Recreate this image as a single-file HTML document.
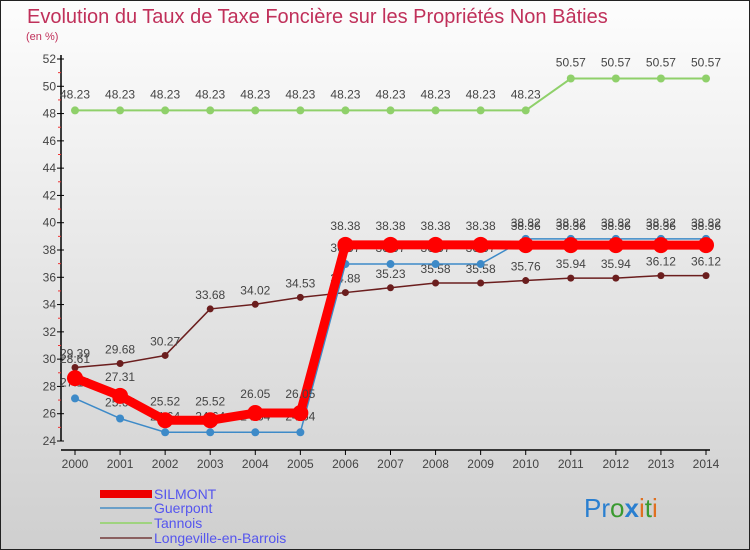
<!DOCTYPE html>
<html><head><meta charset="utf-8"><style>
body{margin:0}
#c{position:relative;width:750px;height:550px;overflow:hidden;font-family:"Liberation Sans",sans-serif}
</style></head><body>
<div id="c">
<svg id="s" width="750" height="550" xmlns="http://www.w3.org/2000/svg">
<defs><linearGradient id="bg" x1="0" y1="0" x2="0" y2="1"><stop offset="0" stop-color="#fdfdfd"/><stop offset="1" stop-color="#cfcfcf"/></linearGradient></defs>
<rect x="0.5" y="0.5" width="749" height="549" fill="url(#bg)" stroke="#222"/>
<text x="27" y="23" font-size="20" fill="#c0305a">Evolution du Taux de Taxe Foncière sur les Propriétés Non Bâties</text>
<text x="26" y="40" font-size="11" fill="#c0305a">(en %)</text>
<g id="axes"></g><g id="series"></g>
<g font-size="14" fill="#5555ee">
<rect x="100" y="490" width="52" height="8" fill="#e00"/>
<text x="154" y="499">SILMONT</text>
<rect x="100" y="507" width="52" height="2" fill="#6a9fc8"/>
<text x="154" y="513">Guerpont</text>
<rect x="100" y="522" width="52" height="2" fill="#9fd37f"/>
<text x="154" y="528">Tannois</text>
<rect x="100" y="537" width="52" height="2" fill="#8a6060"/>
<text x="154" y="543">Longeville-en-Barrois</text>
</g>
<text x="584" y="517" font-size="26"><tspan fill="#2a7fd0">Pr</tspan><tspan fill="#3a9a30">o</tspan><tspan fill="#2a7fd0" font-weight="bold">x</tspan><tspan fill="#e07020">i</tspan><tspan fill="#3a9a30">t</tspan><tspan fill="#e07020">i</tspan></text>
</svg>
</div>
<script>
const years=[2000,2001,2002,2003,2004,2005,2006,2007,2008,2009,2010,2011,2012,2013,2014];
const silmont=[28.61,27.31,25.52,25.52,26.05,26.05,38.38,38.38,38.38,38.38,38.36,38.36,38.36,38.36,38.36];
const guerpont=[27.12,25.65,24.64,24.64,24.64,24.64,36.97,36.97,36.97,36.97,38.82,38.82,38.82,38.82,38.82];
const tannois=[48.23,48.23,48.23,48.23,48.23,48.23,48.23,48.23,48.23,48.23,48.23,50.57,50.57,50.57,50.57];
const longeville=[29.39,29.68,30.27,33.68,34.02,34.53,34.88,35.23,35.58,35.58,35.76,35.94,35.94,36.12,36.12];
const yTicks=[24,26,28,30,32,34,36,38,40,42,44,46,48,50,52];
const NS="http://www.w3.org/2000/svg";
const x=i=>75+i*(706-75)/(years.length-1);
const y=v=>441-(v-24)*(441-59)/28;
function mk(t,a,p){const e=document.createElementNS(NS,t);for(const k in a)e.setAttribute(k,a[k]);p.appendChild(e);return e;}
const ax=document.getElementById('axes');
mk('line',{x1:61,y1:55,x2:61,y2:441,stroke:'#000','stroke-width':1.5},ax);
mk('line',{x1:61,y1:450,x2:710,y2:450,stroke:'#000','stroke-width':1.5},ax);
yTicks.forEach(v=>{
 const l=mk('line',{x1:57,y1:y(v),x2:64,y2:y(v),stroke:'#000'},ax);
 
 
 if(v<52){const r=mk('line',{x1:58,y1:y(v+1),x2:61,y2:y(v+1),stroke:'#e33'},ax);}
 const t=mk('text',{x:56,y:y(v)+4,'text-anchor':'end','font-size':12,fill:'#444'},ax);t.textContent=v;
 
 
});
years.forEach((yr,i)=>{
 mk('line',{x1:x(i),y1:450,x2:x(i),y2:455,stroke:'#000'},ax);
 const t=mk('text',{x:x(i),y:468,'text-anchor':'middle','font-size':12,fill:'#444'},ax);t.textContent=yr;
 
 
});
const sg=document.getElementById('series');
function draw(data,name,color,w,r,labOff){
 const g=mk('g',{},sg);
 
 
 mk('polyline',{points:data.map((v,i)=>x(i)+','+y(v)).join(' '),fill:'none',stroke:color,'stroke-width':w,'stroke-linejoin':'round'},g);
 data.forEach((v,i)=>{
  const c=mk('circle',{cx:x(i),cy:y(v),r:r,fill:color},g);
  
  
  const t=mk('text',{x:x(i),y:y(v)-labOff,'text-anchor':'middle','font-size':12,fill:'#444'},g);t.textContent=v.toFixed(2);
  
  
 });
}
draw(tannois,'tannois','#8fd06a',2,4,12);
draw(longeville,'longeville','#6b1e1e',1.5,3.5,10);
draw(guerpont,'guerpont','#3d8ac8',1.5,4,12);
draw(silmont,'silmont','#f00',9,8,15);
</script>
</body></html>
